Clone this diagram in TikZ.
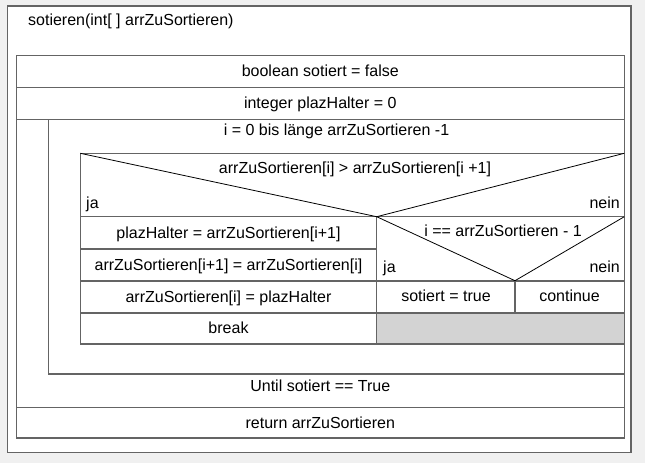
\documentclass[tikz,border=0pt]{standalone}
\usepackage{fontspec}
\setmainfont{Liberation Sans}
\definecolor{bg}{HTML}{F0F0F0}
\definecolor{frame}{HTML}{646464}
\definecolor{empty}{HTML}{D3D3D3}
\begin{document}
\begin{tikzpicture}[x=1pt,y=-1pt,
  box/.style={draw=frame,line width=1.1pt},
  diag/.style={draw=black,line width=0.8pt},
  txt/.style={font=\fontsize{16}{18}\selectfont,inner sep=0pt,text=black,anchor=base},
  txtl/.style={txt,anchor=base west},
  txtr/.style={txt,anchor=base east}]
\useasboundingbox (0,0) rectangle (645,463);
\fill[bg] (0,0) rectangle (645,463);
% outer frame
\draw[box,fill=white] (7.3,6) rectangle (631,452.7);
\node[txtl] (title) at (28,25.5) {sotieren(int[ ] arrZuSortieren)};
% sequence rows
\draw[box] (16.3,55.7) rectangle (624.3,438);
\draw[box] (16.3,87.3) -- (624.3,87.3);
\draw[box] (16.3,119.3) -- (624.3,119.3);
\draw[box] (48.7,119.3) -- (48.7,374) -- (624.3,374);
\draw[box] (16.3,407.3) -- (624.3,407.3);
\node[txt] (init1) at (320.3,76.5) {boolean sotiert = false};
\node[txt] (init2) at (320.3,108.3) {integer plazHalter = 0};
\node[txt] (loop) at (336.5,135.3) {i = 0 bis länge arrZuSortieren -1};
\node[txt] (until) at (320.3,391) {Until sotiert == True};
\node[txt] (ret) at (320.3,428) {return arrZuSortieren};
% if block
\fill[empty] (376.7,313) rectangle (624.3,344);
\draw[box] (80.3,153.3) rectangle (624.3,344);
\draw[box] (80.3,216.7) -- (624.3,216.7);
\draw[box] (376.7,216.7) -- (376.7,344);
\draw[box] (80.3,249) -- (376.7,249);
\draw[box] (80.3,281) -- (624.3,281);
\draw[box] (80.3,313) -- (624.3,313);
\draw[box] (515,281) -- (515,313);
\draw[diag] (80.3,153.3) -- (376.7,216.7) -- (624.3,153.3);
\draw[diag] (376.7,216.7) -- (515,280.7) -- (624.3,216.7);
\node[txt] (cond1) at (355,173) {arrZuSortieren[i] > arrZuSortieren[i +1]};
\node[txtl] (ja1) at (86,208) {ja};
\node[txtr] (nein1) at (620,208) {nein};
\node[txt] (s1) at (228.5,238) {plazHalter = arrZuSortieren[i+1]};
\node[txt] (s2) at (228.5,270) {arrZuSortieren[i+1] = arrZuSortieren[i]};
\node[txt] (s3) at (228.5,302) {arrZuSortieren[i] = plazHalter};
\node[txt] (s4) at (228.5,333.5) {break};
\node[txt] (cond2) at (503,236.5) {i == arrZuSortieren - 1};
\node[txtl] (ja2) at (383,272.5) {ja};
\node[txtr] (nein2) at (620,272.5) {nein};
\node[txt] (t1) at (446,301.5) {sotiert = true};
\node[txt] (t2) at (569.5,301.5) {continue};
\end{tikzpicture}
\end{document}
